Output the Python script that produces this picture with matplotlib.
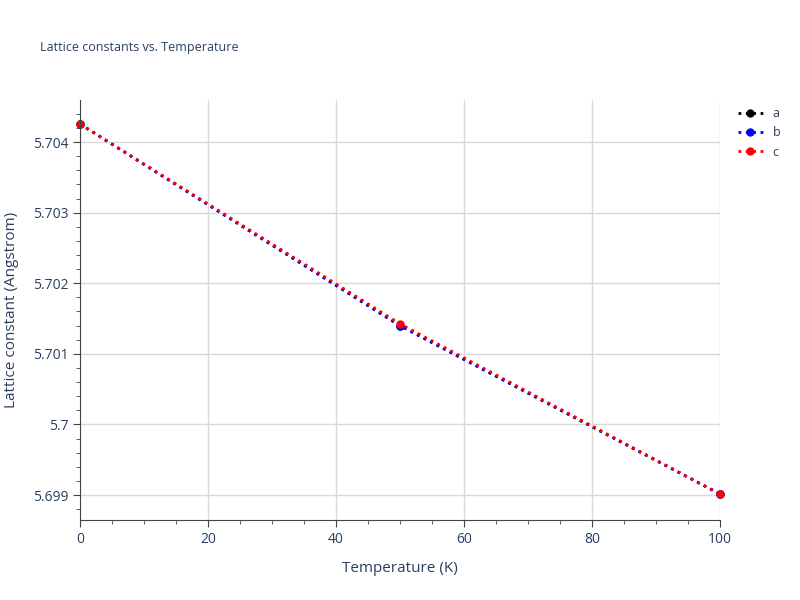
import matplotlib
matplotlib.use("Agg")
import matplotlib.pyplot as plt
from matplotlib.ticker import MultipleLocator, FuncFormatter

temps = [0, 50, 100]
a_vals = [5.704255, 5.701400, 5.699014]
b_vals = [5.704255, 5.701397, 5.699014]
c_vals = [5.704255, 5.701425, 5.699014]

plt.rcParams['font.family'] = ['Open Sans', 'DejaVu Sans']
txt = '#2a3f5f'
fig = plt.figure(figsize=(8, 6), dpi=100)
ax = fig.add_axes([0.1, 0.1333, 0.8, 0.7])
for vals, col, lab in [(a_vals, 'black', 'a'), (b_vals, 'blue', 'b'), (c_vals, 'red', 'c')]:
    ax.plot(temps, vals, ':', color=col, lw=2, marker='o', ms=5, mec=col, label=lab, clip_on=False)
ax.set_xlim(0, 100)
ax.set_ylim(5.698646, 5.704595)
ax.xaxis.set_major_locator(MultipleLocator(20))
ax.xaxis.set_minor_locator(MultipleLocator(5))
ax.yaxis.set_major_locator(MultipleLocator(0.001))
ax.yaxis.set_minor_locator(MultipleLocator(0.0002))
ax.yaxis.set_major_formatter(FuncFormatter(lambda v, p: ('%.3f' % v).rstrip('0').rstrip('.')))
ax.grid(True, which='major', color='#d9d9d9', lw=1)
ax.set_axisbelow(True)
for s in ['top', 'right']:
    ax.spines[s].set_visible(False)
for s in ['left', 'bottom']:
    ax.spines[s].set_color('#444444')
ax.tick_params(which='major', length=5, color='#444444', labelcolor=txt, labelsize=10)
ax.tick_params(which='minor', length=3, color='#444444')
ax.set_xlabel('Temperature (K)', color=txt, fontsize=11, labelpad=10)
ax.set_ylabel('Lattice constant (Angstrom)', color=txt, fontsize=11, labelpad=10)
fig.text(0.05, 0.915, 'Lattice constants vs. Temperature', color=txt, fontsize=9)
leg = ax.legend(loc='upper left', bbox_to_anchor=(1.01, 1.01), frameon=False, fontsize=9,
                handlelength=2, labelcolor=txt)
fig.savefig('out.png')
